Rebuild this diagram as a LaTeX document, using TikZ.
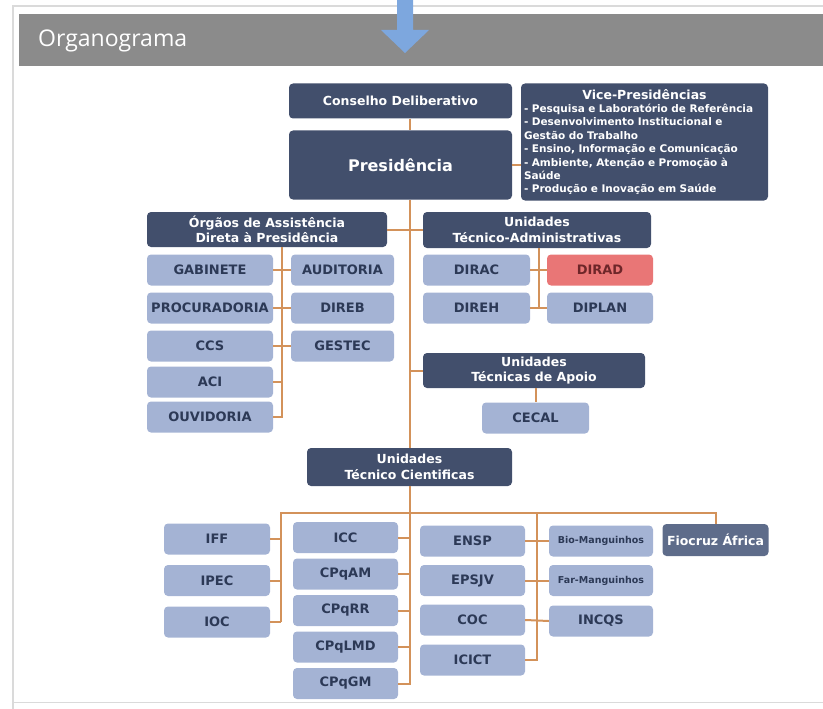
\documentclass[tikz,border=0pt]{standalone}
\usepackage{fontspec}
\setmainfont{DejaVu Sans}
\newfontfamily\headfont{Open Sans}
\usetikzlibrary{positioning, calc}
\definecolor{navy}{HTML}{424F6C}
\definecolor{slate}{HTML}{5E6C8A}
\definecolor{paleblue}{HTML}{A4B3D4}
\definecolor{boxtext}{HTML}{2C3956}
\definecolor{salmon}{HTML}{E97676}
\definecolor{maroon}{HTML}{6E2629}
\definecolor{linkorange}{HTML}{D3925A}
\definecolor{headgray}{HTML}{8B8B8B}
\definecolor{framegray}{HTML}{DADADA}
\definecolor{arrowblue}{HTML}{7DA7DE}

\begin{document}
\begin{tikzpicture}[x=1pt, y=-1pt,
    box/.style={rounded corners=4pt, align=center, inner sep=0pt,
        font=\bfseries\fontsize{12.5}{15.5}\selectfont},
    dark/.style={box, fill=navy, text=white},
    light/.style={box, fill=paleblue, text=boxtext, minimum width=105pt, minimum height=31pt,
        font=\bfseries\fontsize{13}{15}\selectfont},
    link/.style={draw=linkorange, line width=2pt}]
        \useasboundingbox (0, 0) rectangle (823, 709);
        % frame and title bar
        \draw[framegray, line width=2pt] (13, 709) -- (13, 6) -- (823, 6);
        \draw[framegray, line width=1pt] (13, 702) -- (823, 702);
        \fill[headgray] (19, 14) rectangle (823, 66);
        \path (38, 41) node[anchor=west, inner sep=0pt, text=white, font=\headfont\fontsize{23}{26}\selectfont](Titulo){Organograma};
        \fill[arrowblue] (397, 0) -- (413, 0) -- (413, 30) -- (429, 30) -- (405, 53)
            -- (381, 30) -- (397, 30) -- cycle;

        % top level
        \path (400.5, 101) node[dark, minimum width=223pt, minimum height=35pt](Conselho){Conselho Deliberativo};
        \path (400.5, 165) node[dark, minimum width=223pt, minimum height=69pt,
            font=\bfseries\fontsize{16}{19}\selectfont](Presidencia){Presidência};
        \path (644.5, 142) node[dark, minimum height=117pt, text width=241pt, inner xsep=3pt, align=left,
            font=\bfseries\fontsize{10.5}{13.4}\selectfont](Vice){%
            \makebox[\linewidth]{\fontsize{12.5}{14}\selectfont Vice-Presidências}\\
            - Pesquisa e Laboratório de Referência\\
            - Desenvolvimento Institucional e\\
            Gestão do Trabalho\\
            - Ensino, Informação e Comunicação\\
            - Ambiente, Atenção e Promoção à\\
            Saúde\\
            - Produção e Inovação em Saúde};

        % assistencia direta
        \path (267, 229.5) node[dark, minimum width=240pt, minimum height=35pt](Orgaos){Órgãos de Assistência\\Direta à Presidência};
        \path (210, 270) node[light, minimum width=126pt](Gabinete){GABINETE};
        \path (342.5, 270) node[light, minimum width=103pt](Auditoria){AUDITORIA};
        \path (210, 308) node[light, minimum width=126pt](Procuradoria){PROCURADORIA};
        \path (342.5, 308) node[light, minimum width=103pt](Direb){DIREB};
        \path (210, 346) node[light, minimum width=126pt](Ccs){CCS};
        \path (342.5, 346) node[light, minimum width=103pt](Gestec){GESTEC};
        \path (210, 382) node[light, minimum width=126pt](Aci){ACI};
        \path (210, 417) node[light, minimum width=126pt](Ouvidoria){OUVIDORIA};

        % tecnico-administrativas and apoio
        \path (537, 230) node[dark, minimum width=228pt, minimum height=36pt](TecAdm){Unidades\\Técnico-Administrativas};
        \path (476.5, 270) node[light, minimum width=107pt](Dirac){DIRAC};
        \path (600, 270) node[light, minimum width=106pt, fill=salmon, text=maroon](Dirad){DIRAD};
        \path (476.5, 308) node[light, minimum width=107pt](Direh){DIREH};
        \path (600, 308) node[light, minimum width=106pt](Diplan){DIPLAN};
        \path (534, 370.5) node[dark, minimum width=222pt, minimum height=35pt](Apoio){Unidades\\Técnicas de Apoio};
        \path (535.5, 418) node[light, minimum width=107pt](Cecal){CECAL};

        % tecnico cientificas
        \path (409.5, 467) node[dark, minimum width=205pt, minimum height=38pt](Cientificas){Unidades\\Técnico Cientificas};
        \path (217, 539) node[light, minimum width=106pt](Iff){IFF};
        \path (217, 580.5) node[light, minimum width=106pt](Ipec){IPEC};
        \path (217, 622) node[light, minimum width=106pt](Ioc){IOC};
        \path (345.5, 537.5) node[light](Icc){ICC};
        \path (345.5, 574) node[light](CPqAM){CPqAM};
        \path (345.5, 610.5) node[light](CPqRR){CPqRR};
        \path (345.5, 647) node[light](CPqLMD){CPqLMD};
        \path (345.5, 683.5) node[light](CPqGM){CPqGM};
        \path (472.5, 541) node[light](Ensp){ENSP};
        \path (472.5, 580.5) node[light](Epsjv){EPSJV};
        \path (472.5, 620) node[light](Coc){COC};
        \path (472.5, 660) node[light](Icict){ICICT};
        \path (601, 541) node[light, minimum width=104pt, font=\bfseries\fontsize{9.5}{11}\selectfont](Bio){Bio-Manguinhos};
        \path (601, 580.5) node[light, minimum width=104pt, font=\bfseries\fontsize{9.5}{11}\selectfont](Far){Far-Manguinhos};
        \path (601, 621) node[light, minimum width=104pt](Incqs){INCQS};
        \path (715.5, 540) node[dark, minimum width=106pt, minimum height=32pt, fill=slate](Africa){Fiocruz África};

        \coordinate (OrgBus) at ($(Gabinete.east)!.5!(Auditoria.west)$);
        \coordinate (AdmBus) at ($(Dirac.east)!.5!(Dirad.west)$);
        \coordinate (EnspBus) at ($(Ensp.east)!.5!(Bio.west)$);
        \coordinate (BusLeft) at (281, 513);
        \coordinate (BusRight) at (Africa.north |- BusLeft);

        % connectors
        \draw[link] (Cientificas.north |- Conselho.south) -- (Cientificas.north |- Presidencia.north);
        \draw[link] (Presidencia.east) -- (Presidencia.east -| Vice.west);
        \draw[link] (Cientificas.north |- Presidencia.south) -- (Cientificas.north);
        \draw[link] (Orgaos.east) -- (Orgaos.east -| TecAdm.west);
        \draw[link] (Apoio.west -| Cientificas.north) -- (Apoio.west);
        \draw[link] (Apoio.south -| Cecal.north) -- (Cecal.north);
        \draw[link] (OrgBus |- Orgaos.south) -- (OrgBus |- Ouvidoria.east) -- (Ouvidoria.east);
        \foreach \a/\b in {Gabinete/Auditoria, Procuradoria/Direb, Ccs/Gestec, Dirac/Dirad, Direh/Diplan,
            Ensp/Bio, Epsjv/Far, Coc/Incqs}
            \draw[link] (\a.east) -- (\b.west);
        \draw[link] (Aci.east) -- (Aci.east -| OrgBus);
        \draw[link] (AdmBus |- TecAdm.south) -- (AdmBus |- Direh.east);
        \draw[link] (Cientificas.south) -- (Cientificas.south |- CPqGM.east) -- (CPqGM.east);
        \foreach \n in {Icc, CPqAM, CPqRR, CPqLMD}
            \draw[link] (\n.east) -- (\n.east -| Cientificas.south);
        \draw[link] (BusLeft |- Ioc.east) -- (BusLeft) -- (BusRight) -- (Africa.north);
        \draw[link] (Ioc.east) -- (Ioc.east -| BusLeft);
        \foreach \n in {Iff, Ipec}
            \draw[link] (\n.east) -- (\n.east -| BusLeft);
        \draw[link] (EnspBus |- BusLeft) -- (EnspBus |- Icict.east) -- (Icict.east);
    \end{tikzpicture}
\end{document}
